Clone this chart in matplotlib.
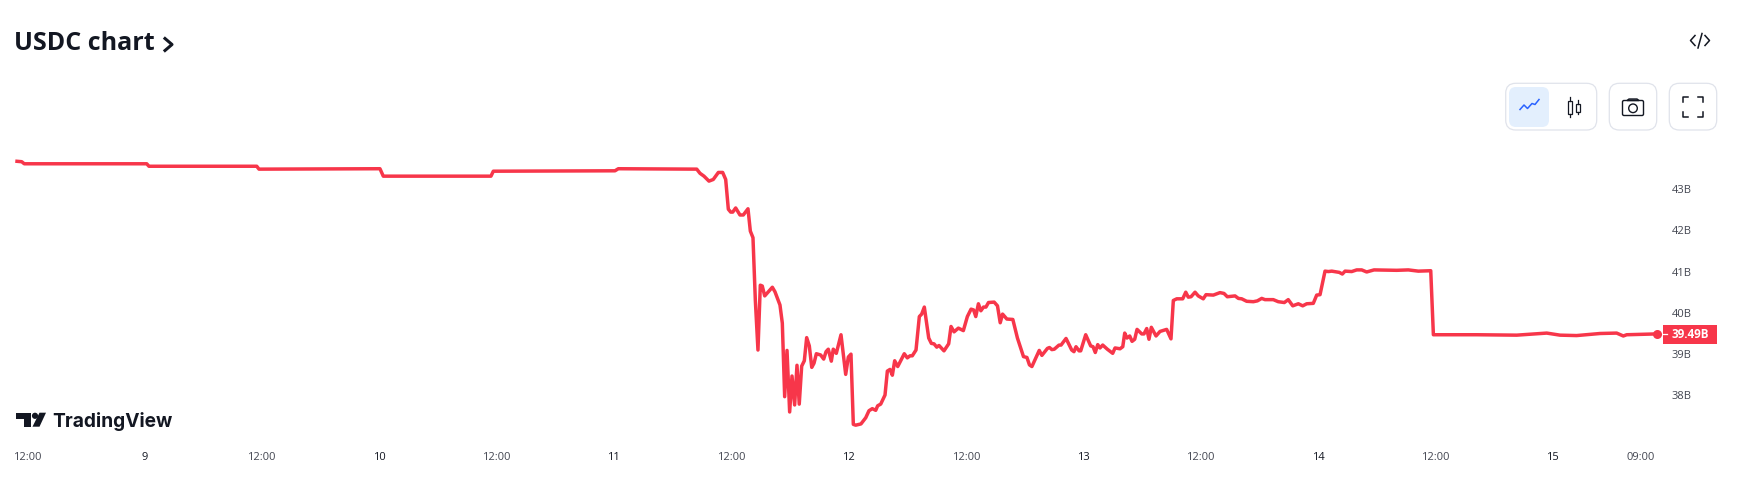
import matplotlib
matplotlib.use("Agg")
from matplotlib import pyplot as plt
from matplotlib.patches import Circle, FancyBboxPatch, Polygon, Rectangle

# hours since the first "12:00" tick, USDC market cap in billions
hours = [
    -1.02, -0.54, -0.28, 12.24, 12.47, 23.49, 23.72, 36.09, 36.43, 47.44, 47.68, 60.12, 60.46, 68.48,
    68.81, 69.22, 69.73, 70.17, 70.69, 71.13, 71.44, 71.71, 71.95, 72.16, 72.46, 72.90, 73.24, 73.72,
    73.96, 74.23, 74.47, 74.74, 74.98, 75.18, 75.43, 76.21, 76.48, 76.99, 77.23, 77.47, 77.71, 77.98,
    78.22, 78.49, 78.73, 78.96, 79.21, 79.48, 79.72, 79.99, 80.24, 80.47, 80.71, 81.15, 81.46, 81.70,
    81.93, 82.24, 82.44, 82.75, 83.23, 83.71, 83.98, 84.25, 84.49, 84.73, 85.27, 85.76, 86.09, 86.43,
    86.78, 86.98, 87.29, 87.73, 87.97, 88.24, 88.48, 88.72, 89.03, 89.70, 90.01, 90.29, 90.52, 90.90,
    91.24, 91.48, 91.75, 92.20, 92.47, 92.74, 93.02, 93.25, 93.76, 94.24, 94.48, 94.79, 95.23, 95.74,
    96.15, 96.53, 96.79, 97.01, 97.28, 97.53, 97.80, 98.05, 98.31, 98.89, 99.23, 99.51, 99.75, 100.19,
    100.80, 101.27, 101.89, 102.24, 102.50, 102.75, 103.50, 103.77, 104.34, 104.55, 104.79, 105.04,
    105.52, 105.73, 106.24, 106.82, 107.05, 107.26, 107.57, 107.74, 108.25, 108.76, 109.00, 109.23,
    109.48, 109.71, 109.99, 110.46, 111.01, 111.25, 111.76, 112.04, 112.24, 112.47, 112.75, 112.99,
    113.26, 113.50, 113.98, 114.21, 114.49, 114.72, 114.96, 115.44, 115.85, 116.53, 116.97, 117.21,
    117.56, 118.17, 118.48, 118.74, 119.02, 119.43, 119.76, 120.27, 120.55, 121.30, 121.98, 122.39,
    122.73, 123.52, 123.86, 124.20, 124.71, 125.39, 125.80, 126.25, 126.58, 127.43, 127.94, 128.56,
    128.96, 129.42, 129.99, 130.44, 130.85, 131.52, 131.87, 132.21, 132.72, 133.06, 133.41, 134.18,
    134.49, 134.77, 135.45, 135.96, 136.47, 136.98, 137.73, 140.05, 141.24, 142.26, 143.53, 143.80,
    148.23, 152.32, 155.39, 156.75, 158.45, 160.84, 162.54, 163.22, 163.57, 166.63,
]
market_cap = [
    43.67, 43.66, 43.61, 43.61, 43.55, 43.55, 43.48, 43.49, 43.31, 43.31, 43.43, 43.44, 43.49, 43.48,
    43.38, 43.31, 43.19, 43.23, 43.40, 43.40, 43.23, 42.51, 42.44, 42.44, 42.54, 42.37, 42.37, 42.52,
    41.98, 41.82, 40.31, 39.10, 40.67, 40.65, 40.41, 40.62, 40.51, 40.19, 39.75, 37.97, 39.09, 37.60,
    38.47, 37.77, 38.73, 37.79, 38.71, 38.84, 39.40, 39.20, 38.68, 38.78, 39.01, 38.98, 38.88, 39.06,
    39.12, 38.83, 39.12, 39.02, 39.47, 38.51, 38.93, 39.00, 37.30, 37.28, 37.31, 37.46, 37.63, 37.68,
    37.64, 37.75, 37.79, 38.01, 38.59, 38.63, 38.49, 38.84, 38.70, 39.01, 38.91, 38.96, 38.96, 39.10,
    39.91, 39.97, 40.14, 39.39, 39.26, 39.25, 39.17, 39.21, 39.08, 39.25, 39.67, 39.54, 39.63, 39.57,
    39.91, 40.09, 40.07, 39.91, 40.22, 40.05, 40.14, 40.14, 40.25, 40.26, 40.17, 39.76, 39.97, 39.85,
    39.84, 39.39, 38.94, 38.92, 38.74, 38.70, 39.09, 38.97, 39.14, 39.16, 39.11, 39.12,
    39.22, 39.22, 39.38, 39.10, 39.06, 39.18, 39.08, 39.08, 39.47, 39.20, 39.18, 39.04,
    39.23, 39.15, 39.22, 39.12, 39.02, 39.15, 39.13, 39.18, 39.51, 39.39, 39.44, 39.31,
    39.36, 39.60, 39.49, 39.49, 39.62, 39.36, 39.65, 39.44, 39.55, 39.60, 39.37, 40.30,
    40.34, 40.34, 40.50, 40.38, 40.39, 40.50, 40.41, 40.34, 40.44, 40.43, 40.49, 40.47,
    40.39, 40.41, 40.35, 40.34, 40.28, 40.27, 40.29, 40.35, 40.32, 40.32, 40.27, 40.25,
    40.32, 40.17, 40.22, 40.17, 40.22, 40.23, 40.43, 40.44, 41.01, 41.00, 41.01, 40.98,
    40.94, 41.01, 41.00, 41.04, 41.04, 40.99, 41.04, 41.03, 41.04, 41.01, 41.02, 39.47,
    39.47, 39.46, 39.51, 39.46, 39.45, 39.50, 39.51, 39.44, 39.47, 39.49,
]
x_ticks = [0, 12, 24, 36, 48, 60, 72, 84, 96, 108, 120, 132, 144, 156, 165]
x_labels = ["12:00", "9", "12:00", "10", "12:00", "11", "12:00", "12", "12:00", "13", "12:00", "14", "12:00", "15", "09:00"]
y_ticks = [38, 39, 40, 41, 42, 43]
y_labels = ["38B", "39B", "40B", "41B", "42B", "43B"]

W, H = 1737, 483
RED = "#F7364A"
DARK = "#131722"
GREY = "#434651"
BORDER = "#E0E3EB"

plt.rcParams["font.family"] = ["Open Sans", "DejaVu Sans"]
fig = plt.figure(figsize=(W / 100, H / 100), dpi=100)

# main chart, the axes box is placed in pixels of the figure
left, right, top, bottom = 0, 1664, 120, 445
ax = fig.add_axes((left / W, 1 - bottom / H, (right - left) / W, (bottom - top) / H))
ax.plot(hours, market_cap, color=RED, lw=2.5, solid_joinstyle="round")
ax.plot(hours[-1], market_cap[-1], "o", color=RED, ms=6.5, mew=0)
ax.set_xlim(-2.76, 167.38)
ax.set_ylim(36.80, 44.67)
for s in ax.spines.values():
    s.set_visible(False)
ax.set_xticks(x_ticks)
ax.set_xticklabels(x_labels)
ax.yaxis.tick_right()
ax.set_yticks(y_ticks)
ax.set_yticklabels(y_labels, ha="left")
ax.tick_params(axis="both", length=0, labelsize=8, labelcolor=GREY)
ax.tick_params(axis="x", pad=5)
ax.tick_params(axis="y", pad=5.5)
for lab in ax.get_xticklabels():
    if ":" not in lab.get_text():
        lab.set_color(DARK)

# everything that is not data goes on an overlay in pixel coordinates
ov = fig.add_axes((0, 0, 1, 1))
ov.set_xlim(0, W)
ov.set_ylim(H, 0)
ov.axis("off")
ov.patch.set_alpha(0)


def button(x0, y0, x1, y1, face="white", edge=BORDER, r=10):
    ov.add_patch(FancyBboxPatch((x0 + r, y0 + r), x1 - x0 - 2 * r, y1 - y0 - 2 * r,
                                boxstyle=f"round,pad={r}", fc=face, ec=edge, lw=0.9))


ov.text(14, 43, "USDC chart", fontsize=18, fontweight="bold", color=DARK, va="center", ha="left")
ov.plot([165, 172, 165], [38.5, 44.5, 50.5], color=DARK, lw=2.2)

# embed icon
ov.plot([1695, 1690.5, 1695], [35.5, 40.5, 45.5], color=DARK, lw=1.1)
ov.plot([1705, 1709.5, 1705], [35.5, 40.5, 45.5], color=DARK, lw=1.1)
ov.plot([1698, 1702], [48, 33.5], color=DARK, lw=1.1)

# chart type buttons
button(1505.7, 83.3, 1596.7, 130)
button(1509, 87, 1549, 127, face="#E3EFFD", edge="none", r=7)
ov.plot([1520, 1524, 1527.5, 1532, 1535, 1539], [109.5, 105, 108.5, 103.5, 104.5, 99.5], color="#2962FF", lw=1.1)
ov.plot([1569.5, 1569.5], [97, 100.5], color=DARK, lw=0.9)
ov.plot([1569.5, 1569.5], [114, 116.5], color=DARK, lw=0.9)
ov.add_patch(Rectangle((1567.5, 100.5), 4, 13.5, fc="white", ec=DARK, lw=0.9))
ov.plot([1577.5, 1577.5], [100, 103.5], color=DARK, lw=0.9)
ov.plot([1577.5, 1577.5], [111.5, 114], color=DARK, lw=0.9)
ov.add_patch(Rectangle((1575.5, 103.5), 4, 8, fc="white", ec=DARK, lw=0.9))

# camera button
button(1609.3, 83.3, 1656.7, 130)
ov.add_patch(FancyBboxPatch((1624, 102), 18, 12, boxstyle="round,pad=1.5", fc="white", ec=DARK, lw=1.0))
ov.add_patch(Polygon([(1627, 100.5), (1629, 99), (1637, 99), (1639, 100.5)], fc="white", ec=DARK, lw=1.0))
ov.add_patch(Circle((1633, 108.3), 4.3, fc="white", ec=DARK, lw=1.0))

# fullscreen button
button(1669.3, 83.3, 1716.7, 130)
for cx, cy, dx, dy in [(1683.3, 97.3, 1, 1), (1702.7, 97.3, -1, 1), (1683.3, 116.7, 1, -1), (1702.7, 116.7, -1, -1)]:
    ov.plot([cx + 5 * dx, cx, cx], [cy, cy, cy + 5 * dy], color=DARK, lw=1.1)

# last value tag
ov.add_patch(Rectangle((1663, 325), 54, 18.7, fc=RED, ec="none"))
ov.plot([1663.3, 1667], [334, 334], color="white", lw=0.9)
ov.text(1672, 334, f"{market_cap[-1]:.2f}B", fontsize=8.4, fontweight="bold", color="white", va="center", ha="left")

# TradingView logo
ov.add_patch(Polygon([(16, 412.7), (30.5, 412.7), (30.5, 426.7), (23.5, 426.7), (23.5, 418.5), (16, 418.5)], fc=DARK, ec="none"))
ov.add_patch(Circle((35, 415.8), 3.1, fc=DARK, ec="none"))
ov.add_patch(Polygon([(39.5, 412.7), (46, 412.7), (39.5, 426.7), (32.5, 426.7)], fc=DARK, ec="none"))
ov.text(52.5, 426.7, "TradingView", family="Inter", fontsize=13.8, fontweight="bold", color=DARK, va="baseline", ha="left")

fig.savefig("out.png", dpi=100)
